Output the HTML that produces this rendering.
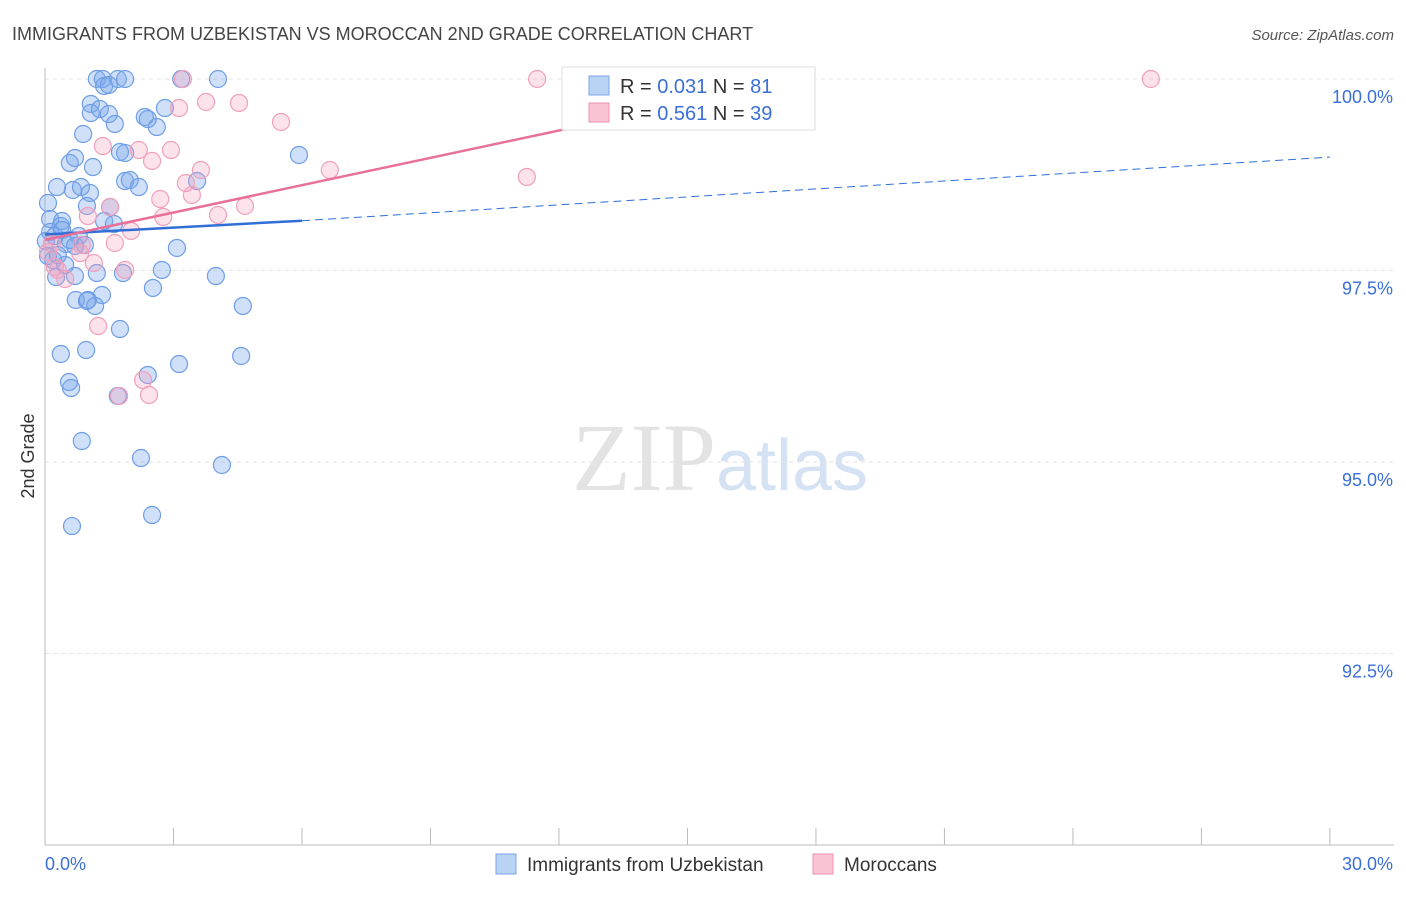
<!DOCTYPE html>
<html><head><meta charset="utf-8"><style>
body{margin:0;background:#fff;font-family:"Liberation Sans",sans-serif}
</style></head><body>
<svg width="1406" height="892" xmlns="http://www.w3.org/2000/svg" font-family="Liberation Sans, sans-serif">
<text x="12" y="40" font-size="18" fill="#444">IMMIGRANTS FROM UZBEKISTAN VS MOROCCAN 2ND GRADE CORRELATION CHART</text>
<text x="1394" y="40" font-size="15" fill="#555" text-anchor="end" font-style="italic">Source: ZipAtlas.com</text>
<text x="720" y="490" font-size="96" fill="#e3e3e3" text-anchor="middle" font-family="Liberation Serif, serif">ZIP<tspan fill="#d5e2f3" font-family="Liberation Sans, sans-serif" font-size="72">atlas</tspan></text>
<g id="grid"></g><g id="axes"></g><g id="marks"></g>
<text transform="translate(34,456) rotate(-90)" font-size="18" fill="#333" text-anchor="middle">2nd Grade</text>
<g>
<rect x="562" y="67" width="253" height="63" fill="#fff" stroke="#ddd"/>
<rect x="589" y="76" width="20" height="19" fill="#b9d3f5" stroke="#7aa6e6"/>
<rect x="589" y="103" width="20" height="19" fill="#f9c3d3" stroke="#ee93b0"/>
<text x="620" y="93" font-size="20" fill="#333">R = <tspan fill="#3a6fd8">0.031</tspan>   N = <tspan fill="#3a6fd8">81</tspan></text>
<text x="620" y="120" font-size="20" fill="#333">R = <tspan fill="#3a6fd8">0.561</tspan>   N = <tspan fill="#3a6fd8">39</tspan></text>
</g>
<g>
<rect x="496" y="854" width="20" height="20" fill="#b9d3f5" stroke="#7aa6e6"/>
<text x="527" y="871" font-size="19" fill="#333">Immigrants from Uzbekistan</text>
<rect x="813" y="854" width="20" height="20" fill="#f9c3d3" stroke="#ee93b0"/>
<text x="844" y="871" font-size="19" fill="#333">Moroccans</text>
</g>
</svg>
<script>
const xTicks=[0,3,6,9,12,15,18,21,24,27,30];
const yTicks=[100,97.5,95,92.5];
const yTickLabels=["100.0%","97.5%","95.0%","92.5%"];
const bluePx=[[97,79],[103,79],[118,79],[125,79],[181,79],[218,79],[104,86],[91,104],[100,109],[91,113],[109,114],[115,124],[83,134],[145,117],[157,127],[165,108],[70,163],[75,158],[93,167],[125,153],[57,187],[73,190],[81,187],[90,193],[125,181],[130,180],[139,187],[197,181],[299,155],[48,203],[87,206],[110,207],[50,219],[62,221],[61,226],[104,221],[114,224],[50,232],[55,236],[46,241],[79,236],[66,244],[75,246],[177,248],[48,256],[65,265],[97,273],[123,273],[162,270],[216,276],[56,277],[75,276],[102,295],[153,288],[76,300],[87,301],[95,306],[243,306],[120,329],[61,354],[86,350],[179,364],[241,356],[69,382],[71,388],[148,375],[118,396],[82,441],[141,458],[222,465],[72,526],[152,515],[62,230],[53,260],[109,85],[58,255],[120,152],[148,119],[88,300],[70,240],[85,245]];
const pinkPx=[[183,79],[537,79],[587,79],[726,79],[1151,79],[179,108],[206,102],[239,103],[281,122],[103,146],[139,150],[152,161],[171,150],[201,170],[330,170],[527,177],[186,183],[192,195],[160,199],[110,207],[245,206],[88,216],[163,217],[218,215],[131,231],[115,243],[48,252],[80,253],[94,263],[125,270],[55,267],[65,279],[98,326],[143,380],[149,395],[119,396],[82,245],[52,244],[58,270]];
// convert estimated readings to data values (x %, y %)
const blueX=bluePx.map(p=>+((p[0]-45)/42.83).toFixed(2));
const blueY=bluePx.map(p=>+(100-(p[1]-79)/76.6).toFixed(3));
const pinkX=pinkPx.map(p=>+((p[0]-45)/42.83).toFixed(2));
const pinkY=pinkPx.map(p=>+(100-(p[1]-79)/76.6).toFixed(3));
const blueTrend=[[0,97.97],[6,98.15],[30,98.98]];
const pinkTrend=[[0,97.9],[17.4,99.97]];
const X=v=>45+v*42.83, Y=v=>79+(100-v)*76.6;
const NS="http://www.w3.org/2000/svg";
function mk(t,a,p){const e=document.createElementNS(NS,t);for(const k in a)e.setAttribute(k,a[k]);document.getElementById(p).appendChild(e);return e;}
yTicks.forEach((v,i)=>{
 const g=mk('line',{x1:45,x2:1394,y1:Y(v),y2:Y(v),stroke:'#e2e2e2','stroke-dasharray':'4,4'},'grid');
 
 
 const t=mk('text',{x:1393,y:Y(v)+24,'font-size':18,fill:'#3a6fd8','text-anchor':'end'},'axes');
 t.textContent=yTickLabels[i];
 
 
});
const ax=mk('line',{x1:45,x2:1394,y1:845,y2:845,stroke:'#bbb'},'axes');


const ay=mk('line',{x1:45,x2:45,y1:68,y2:845,stroke:'#bbb'},'axes');


xTicks.forEach(v=>{const l=mk('line',{x1:X(v),x2:X(v),y1:828,y2:845,stroke:'#bbb'},'axes');
 
 });
const xl0=mk('text',{x:45,y:870,'font-size':18,fill:'#3a6fd8'},'axes');xl0.textContent='0.0%';


const xl1=mk('text',{x:1393,y:870,'font-size':18,fill:'#3a6fd8','text-anchor':'end'},'axes');xl1.textContent='30.0%';


blueX.forEach((x,i)=>{const c=mk('circle',{cx:X(x),cy:Y(blueY[i]),r:8.5,fill:'rgba(120,165,235,0.35)',stroke:'#6f9ee6','stroke-width':1.2},'marks');
 
 });
pinkX.forEach((x,i)=>{const c=mk('circle',{cx:X(x),cy:Y(pinkY[i]),r:8.5,fill:'rgba(245,160,190,0.3)',stroke:'#f0a0bb','stroke-width':1.2},'marks');
 
 });
const b1=mk('line',{x1:X(blueTrend[0][0]),y1:Y(blueTrend[0][1]),x2:X(blueTrend[1][0]),y2:Y(blueTrend[1][1]),stroke:'#2f6fd6','stroke-width':2.5},'marks');


const b2=mk('line',{x1:X(blueTrend[1][0]),y1:Y(blueTrend[1][1]),x2:X(blueTrend[2][0]),y2:Y(blueTrend[2][1]),stroke:'#2f6fd6','stroke-width':1,'stroke-dasharray':'8,5'},'marks');


const p1=mk('line',{x1:X(pinkTrend[0][0]),y1:Y(pinkTrend[0][1]),x2:X(pinkTrend[1][0]),y2:Y(pinkTrend[1][1]),stroke:'#e8709a','stroke-width':2.5},'marks');


</script>
</body></html>
